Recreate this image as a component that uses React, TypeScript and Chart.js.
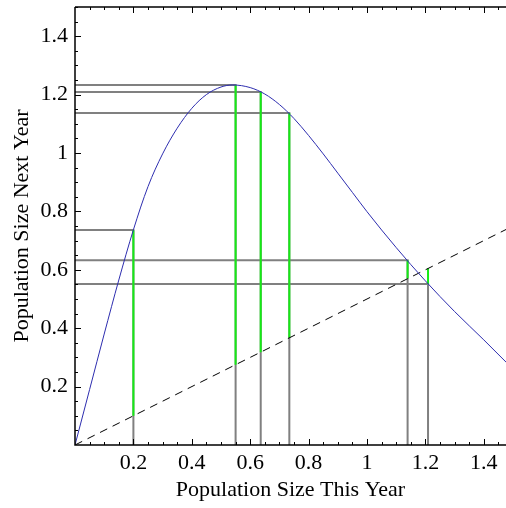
import React, { useEffect, useRef } from "react";
import { Chart, registerables } from "chart.js";

Chart.register(...registerables);

// Axis ranges and tick labels
const xMin = 0;
const xMax = 1.476;
const yMin = 0;
const yMax = 1.5;
const xTicks = [0.2, 0.4, 0.6, 0.8, 1, 1.2, 1.4];
const yTicks = [0.2, 0.4, 0.6, 0.8, 1, 1.2, 1.4];
const minorStep = 0.05;

// Reproduction curve
const curveX = [0, 0.05, 0.1, 0.15, 0.2, 0.25, 0.3, 0.35, 0.4, 0.45, 0.5, 0.54, 0.6, 0.65, 0.7, 0.75, 0.8, 0.85, 0.9, 0.95, 1.0, 1.1, 1.2, 1.3, 1.4, 1.476];
const curveY = [0, 0.19, 0.38, 0.565, 0.737, 0.885, 0.997, 1.085, 1.153, 1.2, 1.226, 1.233, 1.224, 1.202, 1.166, 1.118, 1.06, 0.997, 0.931, 0.865, 0.799, 0.676, 0.562, 0.457, 0.36, 0.284];

// Dashed reference line
const diagX = [0, 1.476];
const diagY = [0, 0.738];

// Cobweb iterates: population this year, next year, and dashed-line level
const webX = [0.2, 0.734, 1.139, 0.636, 1.209, 0.55];
const webY = [0.736, 1.137, 0.633, 1.209, 0.551, 1.233];
const webLow = [0.1, 0.367, 0.57, 0.318, 0.605, 0.275];

const FONT = "'Liberation Serif', 'Times New Roman', serif";

export default function App() {
  const ref = useRef<HTMLCanvasElement>(null);

  useEffect(() => {
    if (!ref.current) return;

    const datasets: any[] = [];
    datasets.push({
      label: "curve",
      data: curveX.map((x, i) => ({ x, y: curveY[i] })),
      showLine: true,
      borderColor: "rgb(45,45,175)",
      borderWidth: 1,
      pointRadius: 0,
      cubicInterpolationMode: "monotone",
      order: 0,
    });
    datasets.push({
      label: "diag",
      data: diagX.map((x, i) => ({ x, y: diagY[i] })),
      showLine: true,
      borderColor: "#000",
      borderWidth: 1,
      borderDash: [8, 6],
      pointRadius: 0,
      order: 1,
    });
    webX.forEach((x, i) => {
      datasets.push({
        label: "green" + i,
        data: [
          { x, y: webLow[i] },
          { x, y: webY[i] },
        ],
        showLine: true,
        borderColor: "rgb(20,235,20)",
        borderWidth: 2,
        pointRadius: 0,
        order: 2,
      });
      datasets.push({
        label: "grey" + i,
        data: [
          { x: 0, y: webY[i] },
          { x, y: webY[i] },
          { x, y: 0 },
        ],
        showLine: true,
        borderColor: "rgb(128,128,128)",
        borderWidth: 2,
        pointRadius: 0,
        order: 3,
      });
    });

    const frame = {
      id: "frame",
      afterDatasetsDraw(chart: any) {
        const { ctx, chartArea } = chart;
        const xs = chart.scales.x;
        const ys = chart.scales.y;
        const { left, right, top, bottom } = chartArea;
        ctx.save();
        ctx.strokeStyle = "#000";
        ctx.lineWidth = 1.5;
        ctx.beginPath();
        ctx.moveTo(left, top);
        ctx.lineTo(right, top);
        ctx.moveTo(left, top);
        ctx.lineTo(left, bottom);
        ctx.lineTo(right, bottom);
        ctx.stroke();
        ctx.lineWidth = 1;
        ctx.beginPath();
        for (let k = 1; k * minorStep <= xMax + 1e-9; k++) {
          const v = k * minorStep;
          const major = k % 4 === 0;
          const len = major ? 6 : 3;
          const px = Math.round(xs.getPixelForValue(v)) + 0.5;
          ctx.moveTo(px, bottom);
          ctx.lineTo(px, bottom - len);
          ctx.moveTo(px, top);
          ctx.lineTo(px, top + len);
        }
        for (let k = 1; k * minorStep <= yMax + 1e-9; k++) {
          const v = k * minorStep;
          const major = k % 4 === 0;
          const len = major ? 6 : 3;
          const py = Math.round(ys.getPixelForValue(v)) + 0.5;
          ctx.moveTo(left, py);
          ctx.lineTo(left + len, py);
        }
        ctx.stroke();
        ctx.restore();
      },
    };

    const chart = new Chart(ref.current, {
      type: "scatter",
      data: { datasets },
      options: {
        animation: false,
        responsive: false,
        events: [],
        layout: { padding: { top: 7, left: 0, right: 0, bottom: 0 } },
        plugins: { legend: { display: false }, tooltip: { enabled: false } },
        scales: {
          x: {
            type: "linear",
            min: xMin,
            max: xMax,
            grid: { display: false, drawTicks: false },
            border: { display: false },
            ticks: {
              color: "#000",
              font: { family: FONT, size: 22 },
              padding: 5,
              maxRotation: 0,
              autoSkip: false,
              callback: (v: any) => String(v),
            },
            title: {
              display: true,
              text: "Population Size This Year",
              color: "#000",
              font: { family: FONT, size: 22 },
              padding: { top: 0, bottom: 5 },
            },
            afterBuildTicks: (s: any) => {
              s.ticks = xTicks.map((v) => ({ value: v }));
            },
            afterFit: (s: any) => {
              s.height = 63;
              s.paddingLeft = 0;
              s.paddingRight = 0;
            },
          },
          y: {
            type: "linear",
            min: yMin,
            max: yMax,
            grid: { display: false, drawTicks: false },
            border: { display: false },
            ticks: {
              color: "#000",
              font: { family: FONT, size: 22 },
              padding: 7,
              autoSkip: false,
              callback: (v: any) => String(v),
            },
            title: {
              display: true,
              text: "Population Size Next Year",
              color: "#000",
              font: { family: FONT, size: 22 },
              padding: { top: 9, bottom: 0 },
            },
            afterBuildTicks: (s: any) => {
              s.ticks = yTicks.map((v) => ({ value: v }));
            },
            afterFit: (s: any) => {
              s.width = 75;
              s.paddingTop = 0;
              s.paddingBottom = 0;
            },
          },
        },
      },
      plugins: [frame],
    } as any);

    return () => chart.destroy();
  }, []);

  return (
    <div style={{ position: "absolute", left: 0, top: 0, width: 506, height: 508, background: "#fff" }}>
      <canvas ref={ref} width={506} height={508} style={{ display: "block" }} />
    </div>
  );
}
